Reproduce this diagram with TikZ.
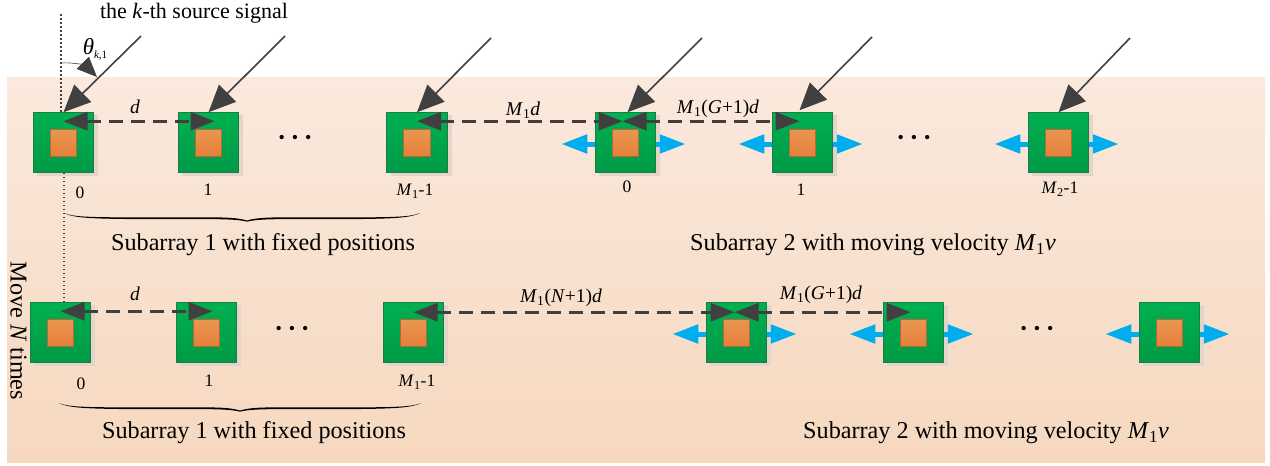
\documentclass[tikz,border=0pt]{standalone}
\usepackage{fontspec}
\setmainfont{Liberation Serif}
\usetikzlibrary{arrows.meta,calc}
\definecolor{bgtop}{HTML}{FAE9DD}
\definecolor{bgbot}{HTML}{F6D8BF}
\definecolor{gtop}{HTML}{00B050}
\definecolor{gbot}{HTML}{009A46}
\definecolor{gedge}{HTML}{1E7A48}
\definecolor{otop}{HTML}{E99650}
\definecolor{obot}{HTML}{E5803A}
\definecolor{oedge}{HTML}{B5683A}
\definecolor{lin}{HTML}{404040}
\definecolor{skyb}{HTML}{00AEEF}
\definecolor{shad}{HTML}{E3D5CA}
\tikzset{
  antbox/.style={draw=gedge,line width=0.8pt,top color=gtop,bottom color=gbot,minimum size=60.5pt,inner sep=0pt,outer sep=0pt},
  antcore/.style={draw=oedge,line width=0.8pt,top color=otop,bottom color=obot,minimum size=26.5pt,inner sep=0pt},
  antshadow/.style={fill=shad,minimum size=61pt,inner sep=0pt},
  incoming/.style={draw=lin,line width=1.6pt,-{Triangle[length=27pt,width=24pt]}},
  spacing/.style={draw=lin,line width=2.8pt,dash pattern=on 14pt off 8pt,{Triangle[length=24pt,width=18pt]}-{Triangle[length=24pt,width=18pt]}},
  moveleft/.style={draw=skyb,line width=5pt,-{Triangle[length=26pt,width=18pt]}},
  vert/.style={draw=lin,line width=1.4pt,dash pattern=on 1.6pt off 2.4pt},
  lab/.style={font=\fontsize{17.5}{20}\selectfont,inner sep=0pt},
  tagtext/.style={font=\fontsize{19.5}{22}\selectfont,inner sep=0pt},
  captext/.style={font=\fontsize{24.2}{26}\selectfont,inner sep=0pt},
  srctext/.style={font=\fontsize{22}{24}\selectfont,inner sep=0pt},
  dotsrow/.style={font=\fontsize{18}{18}\selectfont,inner sep=0pt},
}
\newcommand{\antenna}[3]{%
  \node[antshadow] (#1s) at (#2+4,#3+3) {};
  \node[antbox] (#1) at (#2,#3) {};
  \node[antcore] (#1c) at (#2,#3+0.5) {};
}
\newcommand{\moving}[1]{%
  \draw[moveleft] ([yshift=-1.5pt]#1.west) -- ([xshift=-34pt,yshift=-1.5pt]#1.west);
  \draw[moveleft] ([yshift=-1.5pt]#1.east) -- ([xshift=30pt,yshift=-1.5pt]#1.east);
}
\newcommand{\bracepath}[4]{%
  \fill[black] (#1,#4) .. controls (#1+12,#4+5) and (#1+30,#4+4.4) .. (#2-30,#4+4.4)
     .. controls (#2-12,#4+4.6) and (#2-5,#4+6) .. (#2,#4+7.5)
     .. controls (#2+5,#4+6) and (#2+12,#4+4.6) .. (#2+30,#4+4.4)
     .. controls (#3-30,#4+4.4) and (#3-12,#4+5) .. (#3,#4)
     .. controls (#3-12,#4+6) and (#3-30,#4+6.4) .. (#2+30,#4+6.2)
     .. controls (#2+12,#4+6.4) and (#2+5,#4+7.5) .. (#2,#4+8.6)
     .. controls (#2-5,#4+7.5) and (#2-12,#4+6.4) .. (#2-30,#4+6.2)
     .. controls (#1+30,#4+6.4) and (#1+12,#4+6) .. (#1,#4) -- cycle;
}
\newcommand{\Mone}{\textit{M}\textsubscript{1}}
\begin{document}
\begin{tikzpicture}[x=1pt,y=-1pt]
\useasboundingbox (0,0) rectangle (1270,466);
\fill[top color=bgtop,bottom color=bgbot] (7,77) rectangle (1265,462);

% row 1
\antenna{a0}{63.5}{142.5}
\antenna{a1}{208.5}{142.5}
\antenna{a2}{417}{142.5}
\antenna{b0}{625.5}{142.5}
\antenna{b1}{802.5}{142.5}
\antenna{b2}{1058.5}{142.5}
% row 2
\antenna{c0}{60.5}{332.5}
\antenna{c1}{206.5}{332.5}
\antenna{c2}{413.5}{332.5}
\antenna{e0}{736.5}{332.5}
\antenna{e1}{913.5}{332.5}
\antenna{e2}{1169.5}{332.5}

\moving{b0}\moving{b1}\moving{b2}
\moving{e0}\moving{e1}\moving{e2}

% dotted normals
\coordinate (top) at (61,14);
\coordinate (mid) at (64,302);
\draw[vert] (top) -- (top |- a0.north);
\draw[vert] ([xshift=0.5pt]a0.south) -- (mid);

% sources
\coordinate (s0) at (141,36);
\coordinate (s1) at (285,36);
\coordinate (s2) at (491,38);
\coordinate (s3) at (702,38);
\coordinate (s4) at (872,37);
\coordinate (s5) at (1130,38);
\draw[incoming] (s0) -- (a0.north);
\draw[incoming] (s1) -- (a1.north);
\draw[incoming] (s2) -- (a2.north);
\draw[incoming] (s3) -- ([xshift=2pt]b0.north);
\draw[incoming] (s4) -- ([xshift=-3pt,yshift=2pt]b1.north);
\draw[incoming] (s5) -- (b2.north);

% angle
\coordinate (ang0) at (61,63);
\coordinate (ang1) at (97,77);
\draw[draw=lin,line width=0.6pt,-{Triangle[length=20pt,width=17pt]}] (ang0) .. controls (73,62) and (86,66) .. (ang1);

% spacing row 1
\draw[spacing] ([yshift=-9pt]a0.north) -- ([xshift=6pt,yshift=-9pt]a1.north);
\draw[spacing] ([yshift=-9pt]a2.north) -- ([xshift=-3pt,yshift=-9pt]b0.north);
\draw[spacing] ([xshift=-3pt,yshift=-9pt]b0.north) -- ([xshift=-3pt,yshift=-9pt]b1.north);
% spacing row 2
\draw[spacing] ([yshift=-9pt]c0.north) -- ([xshift=6pt,yshift=-9pt]c1.north);
\draw[spacing] ([yshift=-10pt]c2.north) -- ([xshift=-2pt,yshift=-10pt]e0.north);
\draw[spacing] ([xshift=-2pt,yshift=-10pt]e0.north) -- ([xshift=-3pt,yshift=-10pt]e1.north);

% labels
\node[srctext] (src) at (194,13) {the \textit{k}-th source signal};
\node[tagtext] (theta) at (95,49) {\fontsize{23}{26}\selectfont\textit{θ}\raisebox{-4pt}{\fontsize{11}{12}\selectfont\textit{k},1}};
\node[tagtext] (d1) at (135,107) {\textit{d}};
\node[tagtext] (m1) at (523,110) {\Mone\textit{d}};
\node[tagtext] (m2) at (718,109) {\Mone(\textit{G}+1)\textit{d}};
\node[tagtext] (d2) at (135,294) {\textit{d}};
\node[tagtext] (m3) at (561,298) {\Mone(\textit{N}+1)\textit{d}};
\node[tagtext] (m4) at (821,295) {\Mone(\textit{G}+1)\textit{d}};

\node[lab] (l0) at (80,193) {0};
\node[lab] (l1) at (208,190) {1};
\node[lab] (l2) at (415,191) {\Mone-1};
\node[lab] (l3) at (627,187) {0};
\node[lab] (l4) at (801,190) {1};
\node[lab] (l5) at (1060,189) {\textit{M}\textsubscript{2}-1};
\node[lab] (l6) at (81,384) {0};
\node[lab] (l7) at (209,381) {1};
\node[lab] (l8) at (417,382) {\Mone-1};

\node[dotsrow] (dots1) at (295,139) {•\hspace{7pt}•\hspace{7pt}•};
\node[dotsrow] (dots2) at (914,139) {•\hspace{7pt}•\hspace{7pt}•};
\node[dotsrow] (dots3) at (292,330) {•\hspace{7pt}•\hspace{7pt}•};
\node[dotsrow] (dots4) at (1037,330) {•\hspace{7pt}•\hspace{7pt}•};

\bracepath{64}{247}{420}{213}
\bracepath{59}{240}{421}{403}

\node[captext] (c1t) at (263,244.5) {Subarray 1 with fixed positions};
\node[captext] (c2t) at (873,245) {Subarray 2 with moving velocity \Mone\textit{v}};
\node[captext] (c3t) at (254,433) {Subarray 1 with fixed positions};
\node[captext] (c4t) at (986,433) {Subarray 2 with moving velocity \Mone\textit{v}};
\node[captext,rotate=-90] (mv) at (18.5,331) {Move \textit{N} times};
\end{tikzpicture}
\end{document}
